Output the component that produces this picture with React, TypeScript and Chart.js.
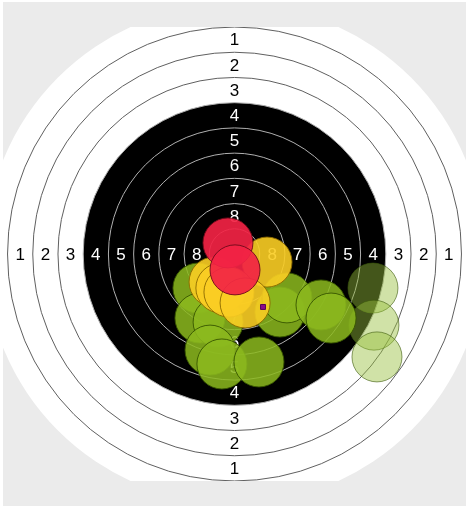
import React, { useEffect, useRef } from "react";
import { Chart, registerables } from "chart.js";

Chart.register(...registerables);

// Shot positions in target units (1 unit = one ring width), grouped by score colour
const RED_X = [-0.26, 0.02];
const RED_Y = [0.44, -0.63];
const YELLOW_X = [1.29, -0.81, -0.54, -0.22, 0.42];
const YELLOW_Y = [-0.32, -1.11, -1.35, -1.51, -1.94];
const GREEN_X = [-1.45, -1.37, -0.65, -0.97, -0.5, 0.97, 1.8, 2.08, 3.43, 3.83];
const GREEN_Y = [-1.35, -2.54, -2.7, -3.81, -4.36, -4.28, -2.3, -1.74, -2.02, -2.54];
const LIGHT_X = [5.49, 5.53, 5.65];
const LIGHT_Y = [-1.35, -2.82, -4.08];
const MEAN_X = [1.13];
const MEAN_Y = [-2.1];

const RING_LABELS = ["1", "2", "3", "4", "5", "6", "7", "8"];
const SHOT_RADIUS = 0.99; // units
const TARGET_RADIUS = 9.9; // white card
const BLACK_RADIUS = 6; // ring 4 outer edge

const pts = (xs: number[], ys: number[]) => xs.map((x, i) => ({ x, y: ys[i] }));

const targetPlugin = {
  id: "target",
  afterLayout(chart: any) {
    const s = chart.scales.x;
    const r = s.getPixelForValue(SHOT_RADIUS) - s.getPixelForValue(0);
    chart.data.datasets.forEach((ds: any) => {
      if (ds.shot) ds.radius = isFinite(r) && r > 0 ? r : 25;
    });
  },
  beforeDraw(chart: any) {
    const c = chart.ctx;
    c.save();
    c.fillStyle = "#ebebeb";
    c.fillRect(3, 2, chart.width - 3, chart.height - 4);
    c.restore();
  },
  beforeDatasetsDraw(chart: any) {
    const c = chart.ctx;
    const a = chart.chartArea;
    const xs = chart.scales.x;
    const ys = chart.scales.y;
    const cx = xs.getPixelForValue(0);
    const cy = ys.getPixelForValue(0);
    const u = xs.getPixelForValue(1) - cx;
    c.save();
    c.beginPath();
    c.rect(a.left, a.top, a.right - a.left, a.bottom - a.top);
    c.clip();
    c.fillStyle = "#ffffff";
    c.beginPath();
    c.arc(cx, cy, TARGET_RADIUS * u, 0, Math.PI * 2);
    c.fill();
    c.fillStyle = "#000000";
    c.beginPath();
    c.arc(cx, cy, BLACK_RADIUS * u, 0, Math.PI * 2);
    c.fill();
    c.lineWidth = 1;
    for (let k = 1; k <= 9; k++) {
      const r = (10 - k) * u;
      c.strokeStyle = 10 - k > BLACK_RADIUS ? "#606060" : "#b0b0b0";
      c.beginPath();
      c.arc(cx, cy, r, 0, Math.PI * 2);
      c.stroke();
    }
    c.font = '17px "Liberation Sans", Arial, sans-serif';
    c.textAlign = "center";
    c.textBaseline = "middle";
    RING_LABELS.forEach((lab, i) => {
      const k = i + 1;
      const r = (10 - k - 0.5) * u;
      c.fillStyle = 10 - k > BLACK_RADIUS ? "#000000" : "#ffffff";
      c.fillText(lab, cx, cy - r + 1);
      c.fillText(lab, cx, cy + r + 1);
      c.fillText(lab, cx - r, cy + 1);
      c.fillText(lab, cx + r, cy + 1);
    });
    c.restore();
  },
};

export default function App() {
  const ref = useRef<HTMLCanvasElement>(null);
  useEffect(() => {
    document.body.style.margin = "0";
    const chart = new Chart(ref.current!, {
      type: "bubble",
      data: {
        datasets: [
          {
            type: "scatter",
            label: "Mean",
            data: pts(MEAN_X, MEAN_Y),
            pointStyle: "rect",
            radius: 3.5,
            backgroundColor: "#8a0a8a",
            borderColor: "#5a005a",
            borderWidth: 1,
            clip: false,
          } as any,
          {
            label: "10",
            shot: true,
            data: pts(RED_X, RED_Y),
            radius: 25,
            backgroundColor: "rgba(242, 35, 68, 0.92)",
            borderColor: "rgba(110, 10, 25, 0.9)",
            borderWidth: 1,
            clip: false,
          } as any,
          {
            label: "9",
            shot: true,
            data: pts(YELLOW_X, YELLOW_Y),
            radius: 25,
            backgroundColor: "rgba(250, 205, 35, 0.9)",
            borderColor: "rgba(140, 105, 0, 0.9)",
            borderWidth: 1,
            clip: false,
          } as any,
          {
            label: "5-8",
            shot: true,
            data: pts(GREEN_X, GREEN_Y),
            radius: 25,
            backgroundColor: "rgba(140, 185, 30, 0.86)",
            borderColor: "rgba(55, 85, 0, 0.9)",
            borderWidth: 1,
            clip: false,
          } as any,
          {
            label: "1-4",
            shot: true,
            data: pts(LIGHT_X, LIGHT_Y),
            radius: 25,
            backgroundColor: "rgba(150, 190, 60, 0.45)",
            borderColor: "rgba(60, 90, 10, 0.6)",
            borderWidth: 1,
            clip: false,
          } as any,
        ],
      },
      options: {
        responsive: false,
        animation: false,
        layout: { autoPadding: false, padding: { left: 3, right: 0, top: 27, bottom: 27 } },
        plugins: { legend: { display: false }, tooltip: { enabled: false } },
        scales: {
          x: { type: "linear", min: -9.18, max: 9.18, display: false },
          y: { type: "linear", min: -9, max: 9, display: false },
        },
      },
      plugins: [targetPlugin],
    });
    return () => chart.destroy();
  }, []);
  return (
    <div style={{ position: "absolute", left: 0, top: 0, width: 466, height: 508 }}>
      <canvas ref={ref} width={466} height={508} />
    </div>
  );
}
